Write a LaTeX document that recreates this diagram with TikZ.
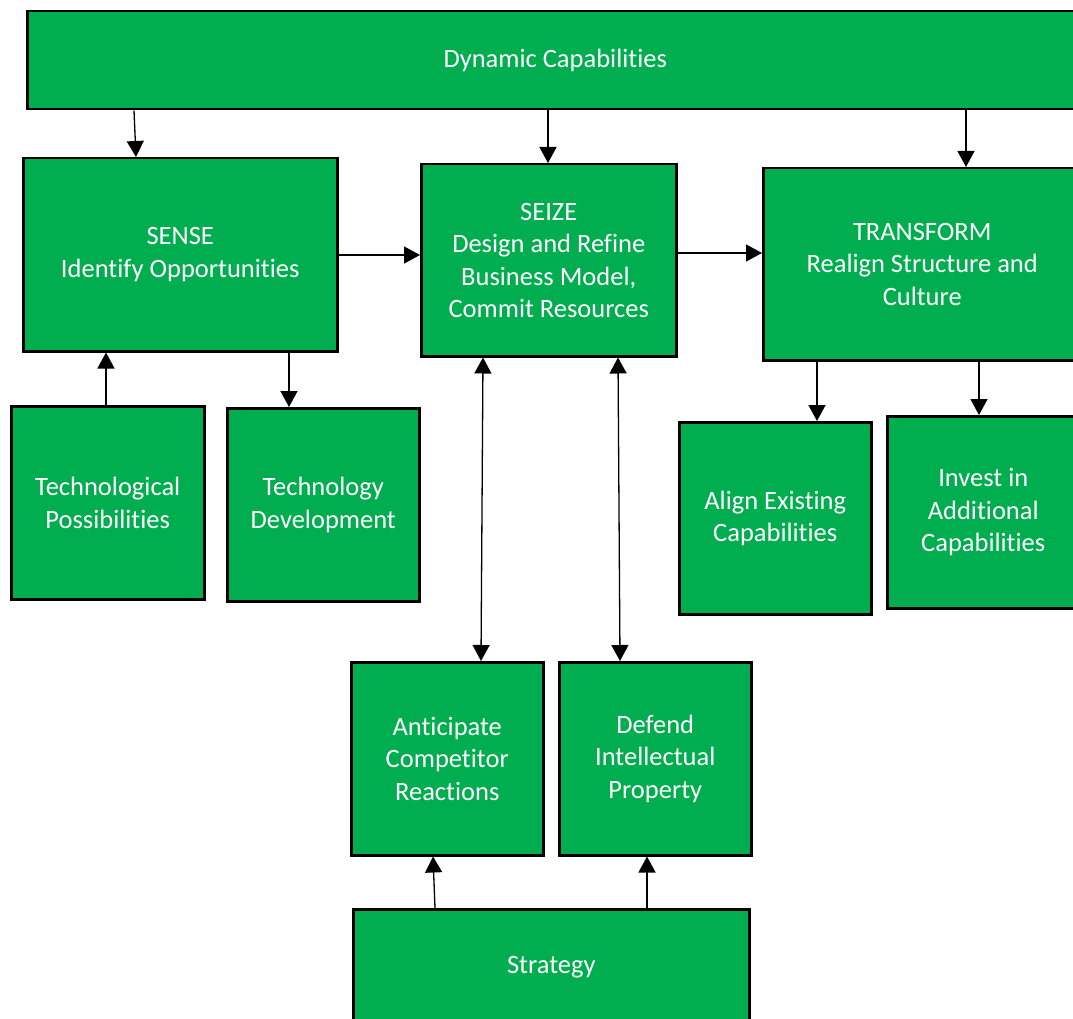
\documentclass[tikz,border=0pt]{standalone}
\usepackage{fontspec}
\setmainfont[Ligatures=NoCommon]{Carlito}
\usetikzlibrary{arrows.meta,calc}
\definecolor{boxgreen}{HTML}{00AD4F}
\tikzset{
  gbox/.style={draw=black, line width=2.5pt, fill=boxgreen, text=white,
    align=center, anchor=north west, inner sep=0pt,
    font=\fontsize{26.5}{32.5}\selectfont},
  link/.style={line width=1.3pt, -{Triangle[width=17pt,length=16pt]}},
  dlink/.style={line width=1.3pt, {Triangle[width=17pt,length=16pt]}-{Triangle[width=17pt,length=16pt]}}
}
\newcommand{\gnode}[6]{% name, x, y, w, h, text
  \node[gbox, minimum width=#4pt, minimum height=#5pt] (#1) at (#2,#3) {#6};}
\begin{document}
\begin{tikzpicture}[x=1pt,y=-1pt]
\useasboundingbox (0,0) rectangle (1073,1019);
\clip (0,0) rectangle (1073,1019);

% boxes
\gnode{dyn}{26}{10}{1056}{98}{Dynamic Capabilities}
\gnode{sense}{22}{157}{314}{193}{SENSE\\Identify Opportunities}
\gnode{seize}{420}{163}{255}{192}{SEIZE\\Design and Refine\\Business Model,\\Commit Resources}
\gnode{trans}{762}{167}{318}{192}{TRANSFORM\\Realign Structure and\\Culture}
\gnode{techpos}{10}{405}{193}{193}{Technological\\Possibilities}
\gnode{techdev}{226}{407}{192}{193}{Technology\\Development}
\gnode{align}{678}{421}{192}{192}{Align Existing\\Capabilities}
\gnode{invest}{886}{415}{192}{192}{Invest in\\Additional\\Capabilities}
\gnode{antic}{350}{661}{192}{193}{Anticipate\\Competitor\\Reactions}
\gnode{defend}{558}{661}{192}{193}{Defend\\Intellectual\\Property}
\gnode{strat}{352}{908}{396}{116}{Strategy}

% connectors
\draw[link] ($(dyn.south west)+(108,0)$) -- ($(sense.north west)+(114,0)$);
\draw[link] ($(dyn.south west)+(522,0)$) -- ($(seize.north west)+(128,0)$);
\draw[link] ($(dyn.south west)+(940,0)$) -- ($(trans.north west)+(204,0)$);
\draw[link] ($(sense.north east)+(0,98)$) -- ($(seize.north west)+(0,92)$);
\draw[link] ($(seize.north east)+(0,90)$) -- ($(trans.north west)+(0,86)$);
\draw[link] ($(techpos.north west)+(96,0)$) -- ($(sense.south west)+(84,0)$);
\draw[link] ($(sense.south west)+(267,0)$) -- ($(techdev.north west)+(63,0)$);
\draw[dlink] ($(seize.south west)+(63,0)$) -- ($(antic.north west)+(131,0)$);
\draw[dlink] ($(seize.south west)+(198,0)$) -- ($(defend.north west)+(62,0)$);
\draw[link] ($(trans.south west)+(55,0)$) -- ($(align.north west)+(139,0)$);
\draw[link] ($(trans.south west)+(217,0)$) -- ($(invest.north west)+(93,0)$);
\draw[link] ($(strat.north west)+(83,0)$) -- ($(antic.south west)+(83,0)$);
\draw[link] ($(strat.north west)+(295,0)$) -- ($(defend.south west)+(89,0)$);
\end{tikzpicture}
\end{document}
